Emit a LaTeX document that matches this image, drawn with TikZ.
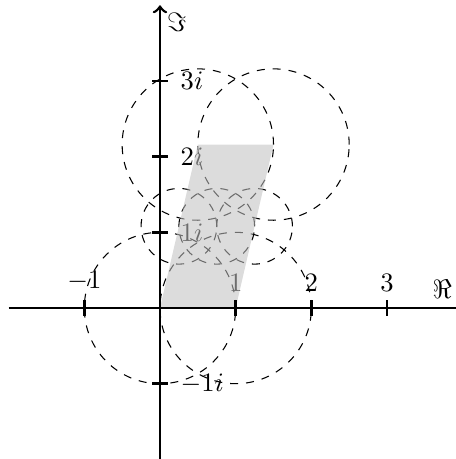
\documentclass[tikz,border=0pt]{standalone}
\usepackage{amsmath}
\begin{document}
\begin{tikzpicture}[x=1cm,y=1cm,
  circ/.style={dashed, line width=0.4pt},
  axis/.style={line width=1pt},
  tick/.style={line width=1pt},
  shadefill/.style={fill={rgb,255:red,193;green,193;blue,193}, fill opacity=0.57}]
\useasboundingbox (-2.114,-1.995) rectangle (3.91,4.07);
% lattice data: tau = 0.5 + 2.16 i
\coordinate (O) at (0,0);
\coordinate (A) at (1,0);
\coordinate (T) at (0.5,2.16);
\coordinate (TA) at (1.5,2.16);
\coordinate (H1) at (0.25,1.08);
\coordinate (H2) at (0.75,1.08);
\coordinate (H3) at (1.25,1.08);
% circles
\draw[circ] (O) circle (1);
\draw[circ] (A) circle (1);
\draw[circ] (T) circle (1);
\draw[circ] (TA) circle (1);
\draw[circ] (H1) circle (0.5);
\draw[circ] (H2) circle (0.5);
\draw[circ] (H3) circle (0.5);
% tick labels
\node[above] (lm1) at (-1,0.1) {$-1$};
\node[above] (l1) at (1,0.1) {$1$};
\node[above] (l2) at (2,0.1) {$2$};
\node[above] (l3) at (3,0.1) {$3$};
\node[right] (li1) at (0.15,1) {$1i$};
\node[right] (li2) at (0.15,2) {$2i$};
\node[right] (li3) at (0.15,3) {$3i$};
\node[right] (lim1) at (0.15,-1) {$-1i$};
% shaded fundamental domain
\fill[shadefill] (O) -- (A) -- (TA) -- (T) -- cycle;
% axes
\coordinate (xs) at (-2,0);
\coordinate (xe) at (4.09,0);
\coordinate (ys) at (0,-2);
\coordinate (ye) at (0,4);
\draw[axis,->] (xs) -- (xe);
\draw[axis,->] (ys) -- (ye);
\node (re) at (3.73,0.25) {$\Re$};
\node (im) at (0.22,3.78) {$\Im$};
% ticks
\foreach \x in {-1,1,2,3} \draw[tick] (\x,-0.1) -- (\x,0.1);
\foreach \y in {-1,1,2,3} \draw[tick] (-0.1,\y) -- (0.1,\y);
\end{tikzpicture}
\end{document}
